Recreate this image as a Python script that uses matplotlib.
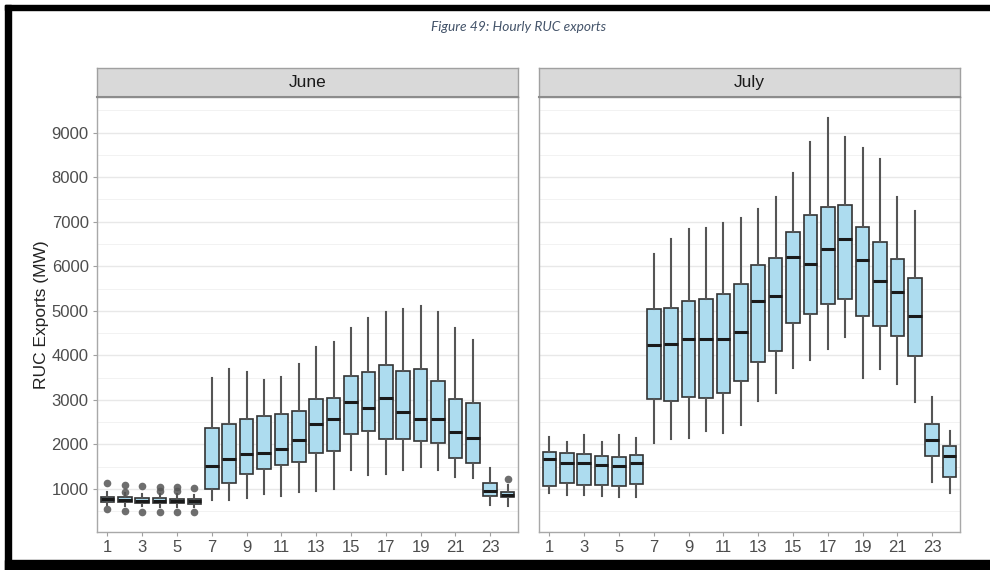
import matplotlib.pyplot as plt
from matplotlib.patches import Rectangle
from matplotlib.ticker import MultipleLocator

hours = list(range(1, 25))
hour_ticks = list(range(1, 24, 2))

# June: whisker ends, quartiles and medians (MW)
june_lo = [640, 620, 610, 600, 600, 600, 750, 750, 800, 890, 850, 930,
           950, 1000, 1430, 1310, 1330, 1430, 1500, 1430, 1270, 1250, 640, 620]
june_q1 = [710, 700, 690, 680, 675, 670, 1000, 1135, 1340, 1450, 1540, 1600,
           1800, 1860, 2230, 2300, 2120, 2120, 2080, 2030, 1700, 1580, 840, 820]
june_med = [780, 750, 740, 730, 725, 720, 1520, 1670, 1790, 1800, 1900, 2100,
            2460, 2570, 2950, 2820, 3040, 2730, 2570, 2570, 2280, 2140, 960, 870]
june_q3 = [830, 810, 800, 790, 785, 780, 2370, 2460, 2570, 2640, 2680, 2750,
           3020, 3040, 3540, 3620, 3780, 3650, 3690, 3420, 3020, 2930, 1130, 930]
june_hi = [930, 900, 890, 880, 880, 870, 3490, 3690, 3620, 3450, 3510, 3800,
           4190, 4300, 4610, 4830, 4970, 5040, 5110, 4970, 4610, 4340, 1470, 1090]
june_out = [[1140, 560], [1100, 940, 510], [1060, 490], [1040, 950, 490],
            [1040, 950, 490], [1030, 490]] + [[]] * 17 + [[1220]]

# July
july_lo = [910, 860, 860, 840, 820, 820, 2030, 2120, 2140, 2300, 2260, 2440,
           2980, 3150, 3720, 3900, 4140, 4410, 3490, 3690, 3360, 2950, 1160, 910]
july_q1 = [1070, 1130, 1090, 1090, 1070, 1110, 3020, 2980, 3060, 3040, 3150, 3420,
           3850, 4100, 4730, 4930, 5150, 5260, 4880, 4660, 4430, 3990, 1740, 1270]
july_med = [1670, 1580, 1580, 1540, 1520, 1580, 4230, 4250, 4370, 4370, 4370, 4520,
            5220, 5330, 6200, 6050, 6390, 6610, 6140, 5670, 5420, 4880, 2100, 1740]
july_q3 = [1830, 1810, 1780, 1740, 1720, 1760, 5040, 5060, 5220, 5260, 5380, 5600,
           6030, 6180, 6770, 7150, 7330, 7370, 6880, 6540, 6160, 5740, 2460, 1970]
july_hi = [2170, 2060, 2210, 2060, 2210, 2140, 6270, 6610, 6830, 6860, 6970, 7080,
           7280, 7550, 8090, 8790, 9330, 8900, 8650, 8410, 7550, 7240, 3060, 2300]
july_out = [[]] * 24


def box_stats(lo, q1, med, q3, hi, out):
    return [dict(whislo=a, q1=b, med=c, q3=d, whishi=e, fliers=f)
            for a, b, c, d, e, f in zip(lo, q1, med, q3, hi, out)]


panels = [
    ("June", box_stats(june_lo, june_q1, june_med, june_q3, june_hi, june_out)),
    ("July", box_stats(july_lo, july_q1, july_med, july_q3, july_hi, july_out)),
]

plt.rcParams['font.family'] = ['Liberation Sans', 'DejaVu Sans']

W, H = 990, 570
fig = plt.figure(figsize=(9.9, 5.7), dpi=100)
fig.patch.set_facecolor("white")

# black frame pieces around the figure
def px_rect(x0, y0, x1, y1, **kw):
    fig.patches.append(Rectangle((x0 / W, 1 - y1 / H), (x1 - x0) / W, (y1 - y0) / H,
                                 transform=fig.transFigure, **kw))

px_rect(5, 5, 990, 10, color="black", zorder=10)
px_rect(5, 5, 11, 570, color="black", zorder=10)
px_rect(5, 560, 990, 570, color="black", zorder=10)

fig.text(519 / W, 1 - 27 / H, "Figure 49: Hourly RUC exports", ha="center", va="center",
         fontsize=9.9, style="italic", family="Lato", color="#44546A")

lefts = [97, 539]
for (name, stats), left in zip(panels, lefts):
    ax = fig.add_axes([left / W, 1 - 532 / H, 421 / W, 435 / H])
    ax.bxp(stats, positions=hours, widths=0.78, patch_artist=True, showfliers=True,
           boxprops=dict(facecolor="#ADDCEF", edgecolor="#333333", linewidth=1.2),
           medianprops=dict(color="#1a1a1a", linewidth=2.2),
           whiskerprops=dict(color="#555555", linewidth=1.5),
           capprops=dict(linewidth=0),
           flierprops=dict(marker="o", markerfacecolor="#555555", markeredgecolor="none",
                           markersize=5.5, alpha=0.85))
    ax.set_xlim(0.4, 24.6)
    ax.set_ylim(35, 9800)
    ax.set_xticks(hour_ticks)
    ax.set_xticklabels([str(h) for h in hour_ticks])
    ax.yaxis.set_major_locator(MultipleLocator(1000))
    ax.yaxis.set_minor_locator(MultipleLocator(500))
    ax.grid(axis="y", which="major", color="#E8E8E8", linewidth=1.0)
    ax.grid(axis="y", which="minor", color="#F2F2F2", linewidth=0.7)
    ax.set_axisbelow(True)
    for s in ax.spines.values():
        s.set_color("#A8A8A8")
        s.set_linewidth(1.0)
    ax.tick_params(axis="both", colors="#A0A0A0", labelcolor="#4D4D4D", labelsize=12,
                   length=3, width=0.8, pad=3)
    ax.tick_params(axis="y", which="minor", length=0)
    if name == "June":
        ax.set_ylabel("RUC Exports (MW)", fontsize=12.5, color="#222222", labelpad=2)
    else:
        ax.tick_params(axis="y", which="both", length=0, labelleft=False)

    # facet strip
    sax = fig.add_axes([left / W, 1 - 97 / H, 421 / W, 29 / H])
    sax.set_facecolor("#D9D9D9")
    sax.set_xticks([])
    sax.set_yticks([])
    for s in sax.spines.values():
        s.set_color("#A0A0A0")
        s.set_linewidth(1.0)
    sax.spines["bottom"].set_color("#8C8C8C")
    sax.spines["bottom"].set_linewidth(1.5)
    sax.text(0.5, 0.5, name, ha="center", va="center", fontsize=12.5, color="#1a1a1a",
             transform=sax.transAxes)

fig.savefig("out.png", dpi=100)
